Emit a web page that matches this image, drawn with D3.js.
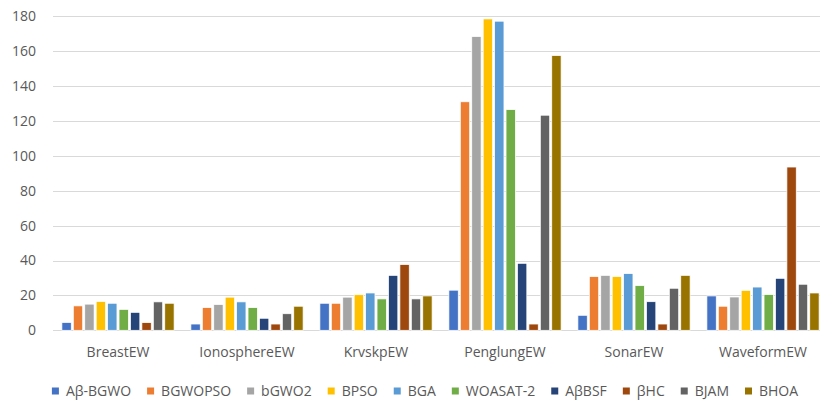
<!DOCTYPE html>
<html>
<head>
<meta charset="utf-8">
<script src="https://cdn.jsdelivr.net/npm/d3@7"></script>
<style>
html,body{margin:0;padding:0;background:#fff;}
svg{display:block;}
text{font-family:"Open Sans","Noto Sans",sans-serif;}
</style>
</head>
<body>
<script>
const categories = ["BreastEW","IonosphereEW","KrvskpEW","PenglungEW","SonarEW","WaveformEW"];
const seriesNames = ["Aβ-BGWO","BGWOPSO","bGWO2","BPSO","BGA","WOASAT-2","AβBSF","βHC","BJAM","BHOA"];
const seriesColors = ["#4472C4","#ED7D31","#A5A5A5","#FFC000","#5B9BD5","#70AD47","#264478","#9E480E","#636363","#997300"];
// values per series, one per category
const vAbBGWO   = [4.5, 3.6, 15.5, 23, 8.6, 19.7];
const vBGWOPSO  = [14, 13, 15.5, 131, 30.8, 13.8];
const vbGWO2    = [15, 14.8, 19, 168.4, 31.5, 19.1];
const vBPSO     = [16.5, 19, 20.4, 178.5, 30.8, 22.9];
const vBGA      = [15.5, 16.3, 21.4, 177.2, 32.5, 24.8];
const vWOASAT2  = [12, 13, 18, 126.5, 25.6, 20.5];
const vAbBSF    = [10.3, 6.9, 31.5, 38.4, 16.4, 29.8];
const vbHC      = [4.4, 3.6, 37.7, 3.6, 3.6, 93.6];
const vBJAM     = [16.3, 9.5, 18, 123.3, 24.1, 26.4];
const vBHOA     = [15.5, 13.8, 19.7, 157.5, 31.5, 21.4];
const yTicks = [0,20,40,60,80,100,120,140,160,180];

const seriesValues = [vAbBGWO,vBGWOPSO,vbGWO2,vBPSO,vBGA,vWOASAT2,vAbBSF,vbHC,vBJAM,vBHOA];

const W = 820, H = 404;
const svg = d3.select("body").append("svg").attr("width", W).attr("height", H);

const y = d3.scaleLinear().domain([0,180]).range([330.3, 16.3]);
const x0 = d3.scaleBand().domain(categories).range([53.5, 827.5]).paddingInner(0.13).paddingOuter(0.065);
const x1 = d3.scaleBand().domain(seriesNames).range([0, x0.bandwidth()]).paddingInner(0.18).paddingOuter(0);
const color = d3.scaleOrdinal().domain(seriesNames).range(seriesColors);

// gridlines
svg.append("g").selectAll("line").data(yTicks).join("line")
  .attr("x1", 53).attr("x2", W)
  .attr("y1", d => Math.round(y(d)) + 0.5).attr("y2", d => Math.round(y(d)) + 0.5)
  .attr("stroke", "#d9d9d9").attr("stroke-width", 1);

// y labels
svg.append("g").selectAll("text").data(yTicks).join("text")
  .attr("x", 36).attr("y", d => y(d)).attr("dy", "0.35em")
  .attr("text-anchor", "end").attr("font-size", 14).attr("fill", "#595959")
  .text(d => d);

// bars
const g = svg.append("g");
categories.forEach((c, ci) => {
  seriesNames.forEach((s, si) => {
    const v = seriesValues[si][ci];
    g.append("rect")
      .attr("x", x0(c) + x1(s))
      .attr("y", y(v))
      .attr("width", x1.bandwidth())
      .attr("height", y(0) - y(v))
      .attr("fill", color(s))
      .attr("stroke", "#fff").attr("stroke-width", 0.75);
  });
});

// x labels
svg.append("g").selectAll("text").data(categories).join("text")
  .attr("x", d => x0(d) + x0.bandwidth()/2).attr("y", 352).attr("dy", "0.35em")
  .attr("text-anchor", "middle").attr("font-size", 14).attr("fill", "#595959")
  .text(d => d);

// legend
const leg = svg.append("g");
const items = seriesNames.map(s => {
  const it = leg.append("g");
  it.append("rect").attr("width", 7).attr("height", 7).attr("y", -3.5).attr("fill", color(s));
  const t = it.append("text").attr("x", 14).attr("dy", "0.35em").attr("font-size", 14).attr("fill", "#595959").text(s);
  return {it, w: 14 + t.node().getComputedTextLength()};
});
const gap = 16;
const total = d3.sum(items, d => d.w) + gap * (items.length - 1);
let cx = 425 - total / 2;
items.forEach(d => { d.it.attr("transform", `translate(${cx},391)`); cx += d.w + gap; });
</script>
</body>
</html>
